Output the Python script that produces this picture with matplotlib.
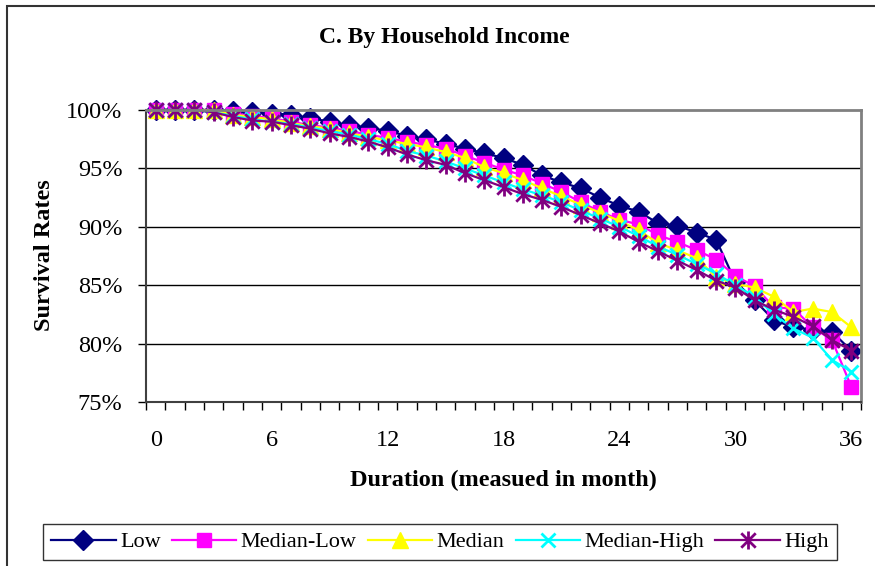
import matplotlib
matplotlib.use("Agg")
import matplotlib.pyplot as plt
from matplotlib.path import Path
from matplotlib.patches import Rectangle
from matplotlib.ticker import FixedLocator, FuncFormatter

plt.rcParams['font.family'] = ['Liberation Serif', 'DejaVu Serif']

months = list(range(37))
x_tick_labels = [0, 6, 12, 18, 24, 30, 36]
y_ticks = [75, 80, 85, 90, 95, 100]

low = [100, 100, 100, 100, 99.9, 99.8, 99.7, 99.6, 99.3, 99.0, 98.7, 98.5, 98.2,
       97.8, 97.5, 97.1, 96.7, 96.3, 95.9, 95.3, 94.4, 93.8, 93.3, 92.5, 91.8,
       91.3, 90.3, 90.1, 89.5, 88.9, 85.3, 83.7, 82.0, 81.4, 81.2, 81.0, 79.4]
median_low = [100, 100, 100, 100, 99.7, 99.5, 99.3, 99.0, 98.7, 98.5, 98.2, 97.9,
              97.6, 97.3, 97.0, 96.7, 96.1, 95.5, 94.9, 94.4, 93.7, 93.0, 92.1,
              91.3, 90.6, 90.2, 89.3, 88.7, 88.0, 87.2, 85.8, 84.9, 83.1, 83.0,
              81.4, 80.3, 76.3]
median = [100, 100, 100, 100, 99.6, 99.4, 99.2, 98.9, 98.6, 98.4, 98.0, 97.7, 97.4,
          97.1, 96.8, 96.4, 95.9, 95.1, 94.6, 94.0, 93.3, 92.6, 91.9, 91.2, 90.5,
          89.7, 88.6, 88.0, 87.3, 85.7, 85.1, 84.8, 84.0, 82.7, 83.0, 82.7, 81.4]
median_high = [100, 100, 100, 99.8, 99.5, 99.2, 99.0, 98.8, 98.5, 98.2, 97.9, 97.5,
               97.1, 96.5, 96.1, 95.6, 95.0, 94.4, 93.8, 93.2, 92.7, 92.1, 91.4,
               90.7, 90.0, 89.2, 88.3, 87.6, 86.8, 86.0, 85.0, 84.0, 82.5, 81.3,
               80.5, 78.6, 77.6]
high = [100, 100, 100, 99.8, 99.4, 99.1, 99.0, 98.7, 98.4, 98.0, 97.7, 97.3, 96.8,
        96.2, 95.7, 95.3, 94.6, 94.0, 93.4, 92.8, 92.3, 91.7, 91.0, 90.3, 89.6,
        88.7, 87.9, 87.1, 86.3, 85.4, 84.8, 83.7, 82.9, 82.3, 81.5, 80.3, 79.4]

# Excel-style "star": an X crossed by a vertical stroke
star = Path([(-1, -1), (1, 1), (-1, 1), (1, -1), (0, -1.25), (0, 1.25)],
            [Path.MOVETO, Path.LINETO, Path.MOVETO, Path.LINETO, Path.MOVETO, Path.LINETO])

series = [
    ("Low", low, dict(color="#000080", marker="D", markersize=10,
                      markerfacecolor="#000080", markeredgecolor="#000080")),
    ("Median-Low", median_low, dict(color="#FF00FF", marker="s", markersize=10,
                                    markerfacecolor="#FF00FF", markeredgecolor="#FF00FF")),
    ("Median", median, dict(color="#FFFF00", marker="^", markersize=11,
                            markerfacecolor="#FFFF00", markeredgecolor="#FFFF00")),
    ("Median-High", median_high, dict(color="#00FFFF", marker="x", markersize=10,
                                      markeredgewidth=2, markeredgecolor="#00FFFF")),
    ("High", high, dict(color="#800080", marker=star, markersize=13,
                        markeredgewidth=2, markeredgecolor="#800080")),
]

fig = plt.figure(figsize=(8.75, 5.66), dpi=100)
fig.patch.set_facecolor("white")

# outer chart border (runs off the right and bottom edges)
fig.patches.append(Rectangle((7 / 875, -0.1), 1.2, 1.1 - 6 / 566,
                             transform=fig.transFigure, fill=False,
                             edgecolor="#333333", linewidth=1.5))

ax = fig.add_axes([146 / 875, 1 - 402 / 566, (861 - 146) / 875, (402 - 110) / 566])

for name, vals, style in series:
    ax.plot(months, vals, label=name, linewidth=1.6, clip_on=False, **style)

ax.set_xlim(-0.5, 36.5)
ax.set_ylim(75, 100)

# horizontal gridlines
for v in y_ticks[1:-1]:
    ax.axhline(v, color="black", linewidth=1.0, zorder=0.5)

ax.yaxis.set_major_locator(FixedLocator(y_ticks))
ax.yaxis.set_major_formatter(FuncFormatter(lambda v, p: f"{v:.0f}%"))
ax.tick_params(axis="y", direction="out", length=6, width=1, pad=11,
               labelsize=17.5, color="black")

ax.xaxis.set_major_locator(FixedLocator(x_tick_labels))
ax.xaxis.set_major_formatter(FuncFormatter(lambda v, p: f"{v:.0f}"))
ax.xaxis.set_minor_locator(FixedLocator([m + 0.5 for m in range(-1, 37)]))
ax.tick_params(axis="x", which="major", length=0, pad=20, labelsize=17.5)
ax.tick_params(axis="x", which="minor", direction="out", length=6, width=1, color="black")

for side in ("top", "right"):
    ax.spines[side].set_color("#808080")
    ax.spines[side].set_linewidth(2)
for side in ("left", "bottom"):
    ax.spines[side].set_color("#404040")
    ax.spines[side].set_linewidth(1.5)

fig.text(444 / 875, 1 - 38 / 566, "C. By Household Income", ha="center", va="center",
         fontsize=17, fontweight="bold")
fig.text(45 / 875, 1 - 255 / 566, "Survival Rates", ha="center", va="center",
         rotation=90, fontsize=17.5, fontweight="bold")
fig.text(503 / 875, 1 - 480 / 566, "Duration (measued in month)", ha="center",
         va="center", fontsize=17.5, fontweight="bold")

leg = fig.legend(loc="center", bbox_to_anchor=(440 / 875, 1 - 542 / 566), ncol=5,
                 fontsize=16, frameon=True, fancybox=False, edgecolor="black",
                 handlelength=2.9, handletextpad=0.2, columnspacing=0.5,
                 borderpad=0.35, borderaxespad=0)
leg.get_frame().set_linewidth(1.0)

fig.savefig("out.png", dpi=100, facecolor="white")
